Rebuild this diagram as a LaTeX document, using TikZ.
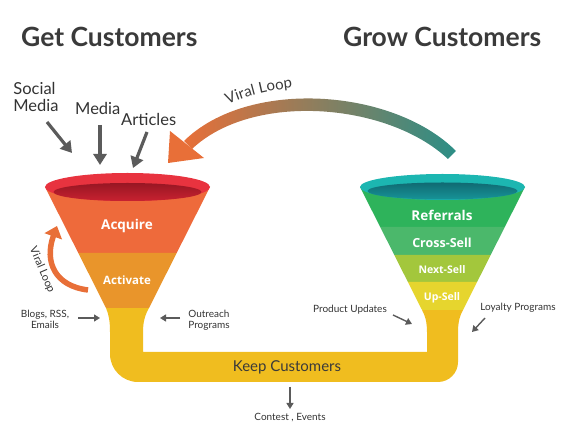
\documentclass[tikz,border=0pt]{standalone}
\usepackage{fontspec}
\setmainfont{Lato}
\newfontfamily\lblfont{Open Sans}
\usetikzlibrary{arrows.meta,decorations.text}

\definecolor{titlegray}{HTML}{3A3A3A}
\definecolor{textgray}{HTML}{333333}
\definecolor{arrowgray}{HTML}{5B5B5B}
\definecolor{rimred}{HTML}{E8333F}
\definecolor{innerred}{HTML}{BE1C2C}
\definecolor{acquirecol}{HTML}{EE6A3B}
\definecolor{activatecol}{HTML}{E9952B}
\definecolor{pipecol}{HTML}{F0BD1F}
\definecolor{rimteal}{HTML}{1CB6B1}
\definecolor{innerteal}{HTML}{137D87}
\definecolor{referralcol}{HTML}{2EB35B}
\definecolor{crosscol}{HTML}{4BB86B}
\definecolor{nextcol}{HTML}{A3C73C}
\definecolor{upcol}{HTML}{E6D52E}
\definecolor{loopteal}{HTML}{2C8E86}
\definecolor{looporange}{HTML}{E86F38}

\tikzset{
  title/.style={anchor=base west, inner sep=0, text=titlegray, font=\fontsize{26.5}{30}\selectfont\bfseries},
  source/.style={inner sep=0, text=textgray, font=\fontsize{16.5}{17}\selectfont},
  note/.style={inner sep=0, text=textgray, font=\fontsize{10}{11}\selectfont},
  stage/.style={inner sep=0, text=white, font=\lblfont\bfseries},
  bigarrow/.style={draw=arrowgray, line width=3.2pt, -{Triangle[length=11pt,width=13pt]}},
  smallarrow/.style={draw=arrowgray, line width=1.4pt, -{Triangle[length=6pt,width=7pt]}}
}

\begin{document}
\begin{tikzpicture}[x=1pt, y=-1pt]
  \useasboundingbox (0,0) rectangle (563,435);

  % titles
  \node[title] (get) at (21,47) {Get Customers};
  \node[title] (grow) at (343,47) {Grow Customers};

  % pipe keeping both funnels together
  \fill[pipecol] (106,308) .. controls (109,315) and (110,322) .. (110,332) -- (110,340)
    [rounded corners=28pt] -- (110,382) -- (300,382)
    [rounded corners=20pt] -- (458,382) -- (458,340)
    [sharp corners] -- (458,332) .. controls (458,322) and (460,315) .. (463,310)
    -- (422,310) .. controls (425,315) and (427,322) .. (427,332)
    -- (427,352) -- (143,352) -- (143,332)
    .. controls (143,322) and (145,315) .. (149,308) -- cycle;

  % left funnel
  \fill[acquirecol] (45,187) -- (78.3,253) -- (176.7,253) -- (210,187) -- cycle;
  \fill[activatecol] (78.3,253) -- (106,308) -- (149,308) -- (176.7,253) -- cycle;
  \fill[rimred] (127.5,187) ellipse [x radius=82.5, y radius=14];
  \shade[top color=innerred!80!black, bottom color=innerred!75!rimred] (127.5,192) ellipse [x radius=74, y radius=9];

  % right funnel
  \fill[referralcol] (360,187) -- (380.2,227) -- (504.8,227) -- (525,187) -- cycle;
  \fill[crosscol] (380.2,227) -- (394.3,255) -- (490.7,255) -- (504.8,227) -- cycle;
  \fill[nextcol] (394.3,255) -- (407.9,282) -- (477.1,282) -- (490.7,255) -- cycle;
  \fill[upcol] (407.9,282) -- (422,310) -- (463,310) -- (477.1,282) -- cycle;
  \fill[rimteal] (442.5,187) ellipse [x radius=82.5, y radius=13];
  \shade[top color=innerteal!85!black, bottom color=innerteal!60!rimteal] (442.5,191) ellipse [x radius=75, y radius=8.5];

  % stage labels
  \node[stage, font=\lblfont\bfseries\fontsize{13.5}{15}\selectfont] (acquire) at (127,226) {Acquire};
  \node[stage, font=\lblfont\bfseries\fontsize{11.5}{13}\selectfont] (activate) at (127,280) {Activate};
  \node[stage, font=\lblfont\bfseries\fontsize{13.5}{15}\selectfont] (referrals) at (442,215) {Referrals};
  \node[stage, font=\lblfont\bfseries\fontsize{12.5}{14}\selectfont] (crosssell) at (442,243) {Cross-Sell};
  \node[stage, font=\lblfont\bfseries\fontsize{10.5}{12}\selectfont] (nextsell) at (442,270) {Next-Sell};
  \node[stage, font=\lblfont\bfseries\fontsize{10.5}{12}\selectfont] (upsell) at (442,298) {Up-Sell};
  \node[inner sep=0, text=titlegray, font=\fontsize{15}{17}\selectfont] (keep) at (287,367) {Keep Customers};

  % big viral loop
  \shade[left color=looporange, right color=loopteal]
    (456,151) .. controls (393,88) and (248,78) .. (184,141)
    -- (192,149) .. controls (252,92) and (387,102) .. (448,159) -- cycle;
  \fill[looporange] (168,163) -- (170,131) -- (204,158) -- cycle;
  \path[decorate, decoration={text along path, text align=center,
    text={|\fontsize{15}{17}\selectfont\color{titlegray}|Viral Loop}}]
    (205,116) .. controls (238,96) and (272,88) .. (318,86);

  % small viral loop
  \coordinate (smallFrom) at (88,290);
  \coordinate (smallTo) at (57,226);
  \draw[looporange, line width=5.5pt, -{Triangle[length=11pt,width=18pt]}]
    (smallFrom) .. controls (55,286) and (44,262) .. (smallTo);
  \node[rotate=-67, inner sep=0, text=textgray, font=\fontsize{11}{13}\selectfont] (smallLoop) at (42,270) {Viral Loop};

  % sources for getting customers
  \node[source, align=left] (social) at (36,97) {Social\\Media};
  \node[source, anchor=base west] (media) at (75,115) {Media};
  \node[source, anchor=base west] (articles) at (121,126) {Articles};
  \coordinate (socialFrom) at (47,122);
  \coordinate (socialTo) at (72,153);
  \coordinate (mediaFrom) at (100,125);
  \coordinate (mediaTo) at (100,165);
  \coordinate (articlesFrom) at (147,132);
  \coordinate (articlesTo) at (133,168);
  \draw[bigarrow] (socialFrom) -- (socialTo);
  \draw[bigarrow] (mediaFrom) -- (mediaTo);
  \draw[bigarrow] (articlesFrom) -- (articlesTo);

  % notes round the pipe
  \node[note, align=center] (blogs) at (45,319) {Blogs, RSS,\\Emails};
  \node[note, align=left] (outreach) at (209,320) {Outreach\\Programs};
  \node[note] (product) at (350,310) {Product Updates};
  \node[note] (loyalty) at (518,308) {Loyalty Programs};
  \node[note] (contest) at (290,418) {Contest , Events};
  \coordinate (blogsTo) at (100,318);
  \coordinate (outreachTo) at (160,318);
  \coordinate (productTo) at (412,324);
  \coordinate (loyaltyTo) at (472,332);
  \coordinate (contestFrom) at (290,387);
  \draw[smallarrow] (78,318) -- (blogsTo);
  \draw[smallarrow] (180,318) -- (outreachTo);
  \draw[smallarrow] (393,315) -- (productTo);
  \draw[smallarrow] (485,318) -- (loyaltyTo);
  \draw[smallarrow] (contestFrom) -- (290,409);
\end{tikzpicture}
\end{document}
